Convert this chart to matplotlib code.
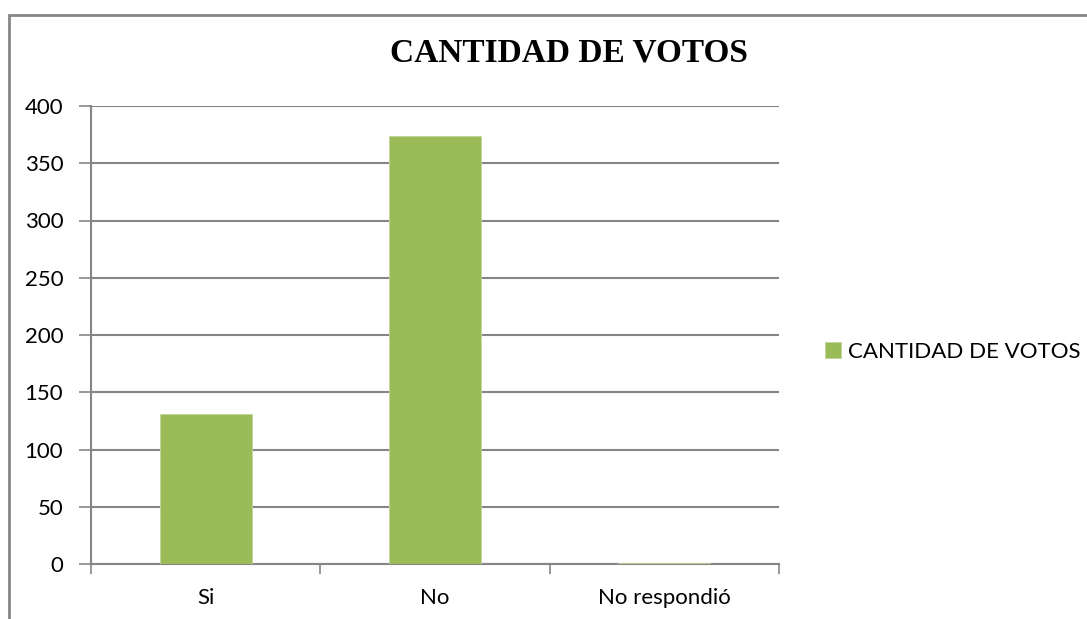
import matplotlib
matplotlib.use('Agg')
import matplotlib.pyplot as plt
from matplotlib.patches import Rectangle

categories = ["Si", "No", "No respondió"]
votos = [131, 374, 1]
series_name = "CANTIDAD DE VOTOS"
yticks = [0, 50, 100, 150, 200, 250, 300, 350, 400]

green = "#9BBB59"
gray = "#868686"
font = "Lato"

fig = plt.figure(figsize = (10.87, 6.19), dpi = 100)
ax = fig.add_axes([91/1087, 55/619, 688/1087, 458/619])

x = list(range(len(categories)))
bars = ax.bar(x, votos, width = 0.4, color = green, edgecolor = "#c3d69b", linewidth = 0.6, zorder = 3, label = series_name)

ax.set_xlim(-0.5, len(categories) - 0.5)
ax.set_ylim(0, 400)
ax.set_yticks(yticks)
ax.set_xticks(x)
ax.set_xticklabels(categories)
ax.set_xticks([i - 0.5 for i in range(len(categories) + 1)], minor = True)
ax.tick_params(axis = "x", which = "major", length = 0, pad = 17, labelsize = 16)
ax.tick_params(axis = "x", which = "minor", length = 7, width = 1.2, color = gray, direction = "out")
ax.tick_params(axis = "y", length = 9, width = 1.2, color = gray, labelsize = 16, pad = 11)
for lab in ax.get_xticklabels() + ax.get_yticklabels():
    lab.set_fontfamily(font)

ax.grid(axis = "y", color = gray, linewidth = 1.5, zorder = 0)
for s in ["top", "right"]:
    ax.spines[s].set_visible(False)
ax.spines["left"].set_color(gray)
ax.spines["bottom"].set_color(gray)
ax.spines["left"].set_linewidth(1.5)
ax.spines["bottom"].set_linewidth(1.5)

fig.text(569/1087, 1 - 53/619, series_name, ha = "center", va = "center",
         fontsize = 24, fontweight = "bold", family = "Liberation Serif")

leg = fig.legend(handles = [bars], labels = [series_name], loc = "center left",
                 bbox_to_anchor = (805/1087, 1 - 352/619), frameon = False,
                 handlelength = 0.73, handleheight = 0.73, handletextpad = 0.3,
                 prop = {"family": font, "size": 16})

# outer chart frame, cut off at the right and bottom like the source
fig.patches.append(Rectangle((9/1087, -0.05), 1.1, 1 - 15/619 + 0.05, transform = fig.transFigure,
                             fill = False, edgecolor = gray, linewidth = 2, figure = fig))

fig.savefig("out.png", dpi = 100)
